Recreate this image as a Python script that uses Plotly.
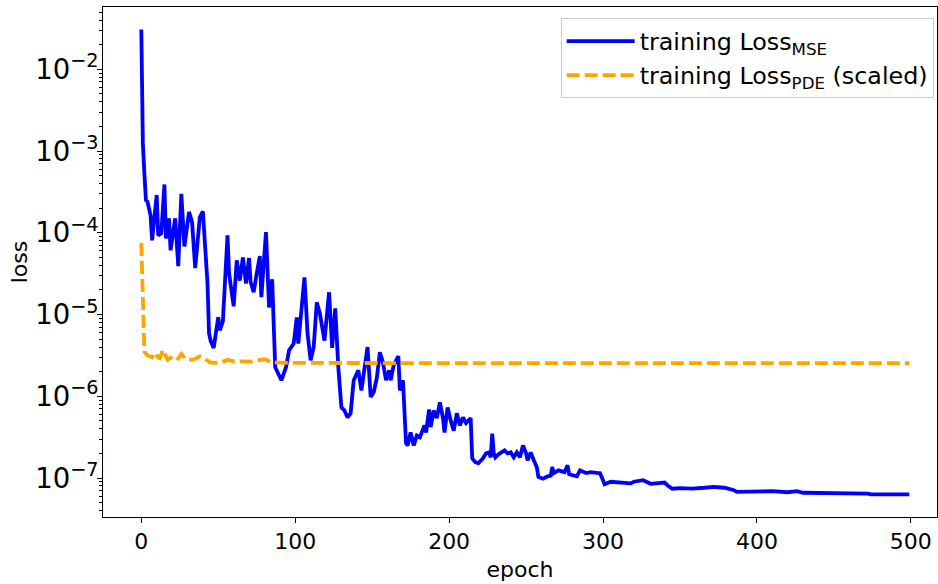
import plotly.graph_objects as go

# ---- data ----
mse_epoch = [0, 1, 2, 3, 4, 6, 7, 10, 11, 13, 15, 16, 18, 19, 22, 24, 26, 28, 31, 33,
             35, 38, 40, 42, 43, 44, 45, 47, 50, 51, 53, 56, 57, 60, 62, 64, 66, 68, 70, 71,
             73, 75, 77, 78, 81, 83, 85, 87, 89, 91, 94, 96, 99, 101, 102, 106, 108, 110, 112, 114,
             116, 119, 122, 124, 126, 128, 130, 132, 134, 136, 138, 141, 143, 145, 147, 149, 151, 153, 155, 157,
             159, 161, 162, 164, 167, 168, 170, 172, 173, 175, 177, 179, 181, 184, 185, 187, 188, 190, 192, 194,
             196, 197, 199, 201, 203, 205, 207, 209, 211, 214, 215, 217, 219, 222, 224, 226, 227, 228, 229, 230,
             232, 236, 238, 240, 242, 244, 246, 248, 250, 251, 253, 255, 257, 258, 261, 264, 266, 267, 268, 271,
             275, 277, 278, 283, 285, 289, 292, 297, 298, 300, 301, 305, 309, 312, 318, 320, 326, 331, 335, 340,
             342, 345, 350, 358, 366, 372, 379, 385, 387, 395, 410, 420, 426, 430, 440, 455, 472, 474, 485, 499]
mse_loss = [3.06e-2, 1.24e-3, 5.3e-4, 2.5e-4, 2.4e-4, 1.64e-4, 8.1e-5, 2.9e-4, 9.3e-5, 9.9e-5,
            3.9e-4, 8.5e-5, 1.5e-4, 6.1e-5, 1.5e-4, 3.9e-5, 3.0e-4, 6.8e-5, 1.8e-4, 1.34e-4,
            3.7e-5, 1.55e-4, 1.83e-4, 5.3e-5, 2.4e-5, 5.9e-6, 4.8e-6, 3.9e-6, 9.3e-6, 6.4e-6,
            8.3e-6, 9.3e-5, 3.2e-5, 1.26e-5, 4.6e-5, 2.6e-5, 5.0e-5, 2.4e-5, 4.9e-5, 2.5e-5,
            1.87e-5, 3.2e-5, 5.2e-5, 1.63e-5, 1.02e-4, 1.22e-5, 2.7e-5, 2.26e-6, 1.91e-6, 1.57e-6,
            2.26e-6, 3.65e-6, 4.4e-6, 9.2e-6, 4.4e-6, 2.85e-5, 5.9e-6, 2.75e-6, 4.0e-6, 1.41e-5,
            1.04e-5, 4.8e-6, 1.87e-5, 3.9e-6, 1.19e-5, 2.26e-6, 7.3e-7, 6.7e-7, 5.5e-7, 6.2e-7,
            1.57e-6, 2.08e-6, 1.18e-6, 2.26e-6, 4.0e-6, 9.8e-7, 1.12e-6, 1.66e-6, 3.45e-6, 2.6e-6,
            1.57e-6, 2.08e-6, 1.57e-6, 2.4e-6, 3.1e-6, 1.18e-6, 1.57e-6, 2.66e-7, 2.5e-7, 3.6e-7,
            2.5e-7, 3.3e-7, 3.15e-7, 4.4e-7, 3.6e-7, 6.9e-7, 4.2e-7, 6.7e-7, 5.4e-7, 8.4e-7,
            5.4e-7, 3.6e-7, 7.3e-7, 5.1e-7, 3.8e-7, 6.2e-7, 4.4e-7, 5.5e-7, 4.7e-7, 5.4e-7,
            1.74e-7, 1.56e-7, 1.51e-7, 1.74e-7, 2.0e-7, 2.06e-7, 1.79e-7, 3.5e-7, 2.0e-7, 1.79e-7,
            1.95e-7, 2.18e-7, 2.0e-7, 2.06e-7, 1.79e-7, 2.06e-7, 1.79e-7, 2.5e-7, 2.0e-7, 1.65e-7,
            2.06e-7, 1.65e-7, 1.35e-7, 1.03e-7, 9.8e-8, 1.05e-7, 1.07e-7, 1.36e-7, 1.15e-7, 1.24e-7,
            1.18e-7, 1.43e-7, 1.11e-7, 1.05e-7, 1.24e-7, 1.15e-7, 1.18e-7, 1.15e-7, 1.15e-7, 9.4e-8,
            8.4e-8, 9.0e-8, 8.9e-8, 8.6e-8, 8.6e-8, 9.0e-8, 9.4e-8, 8.5e-8, 8.7e-8, 8.8e-8,
            8.1e-8, 7.4e-8, 7.5e-8, 7.4e-8, 7.6e-8, 7.8e-8, 7.6e-8, 7.1e-8, 6.75e-8, 6.8e-8,
            6.9e-8, 6.7e-8, 6.9e-8, 6.6e-8, 6.6e-8, 6.5e-8, 6.45e-8, 6.3e-8, 6.35e-8, 6.3e-8]

pde_epoch = [0, 2, 4, 7, 9, 11, 12, 14, 17, 19, 21, 23, 26, 29, 34, 36, 38, 42, 45, 51,
             56, 60, 71, 79, 81, 84, 97, 150, 250, 350, 450, 499]
pde_loss = [7.5e-5, 3.5e-6, 3.17e-6, 3.0e-6, 3.4e-6, 2.97e-6, 2.93e-6, 3.7e-6, 2.8e-6, 2.97e-6,
            2.8e-6, 2.75e-6, 3.3e-6, 2.8e-6, 2.8e-6, 2.95e-6, 3.08e-6, 2.8e-6, 2.58e-6, 2.58e-6,
            2.79e-6, 2.68e-6, 2.65e-6, 2.83e-6, 2.8e-6, 2.6e-6, 2.56e-6, 2.55e-6, 2.55e-6, 2.55e-6,
            2.55e-6, 2.55e-6]

x_ticks = [0, 100, 200, 300, 400, 500]
series_names = ["training Loss<sub>MSE</sub>", "training Loss<sub>PDE</sub> (scaled)"]

FONT = "DejaVu Sans"

fig = go.Figure()
fig.add_trace(go.Scatter(x=mse_epoch, y=mse_loss, mode="lines", name=series_names[0],
                         line=dict(color="#0000ff", width=3.8)))
fig.add_trace(go.Scatter(x=pde_epoch, y=pde_loss, mode="lines", name=series_names[1],
                         line=dict(color="#ffa500", width=3.8, dash="13px,5px")))

axis_common = dict(showline=True, mirror=True, linecolor="black", linewidth=1.1,
                   ticks="outside", ticklen=5, tickwidth=1.1, tickcolor="black",
                   showgrid=False, zeroline=False,
                   tickfont=dict(family=FONT, size=22, color="black"),
                   title_font=dict(family=FONT, size=22, color="black"))

fig.update_xaxes(range=[-24.9, 517.0], tickvals=x_ticks, title_text="epoch",
                 title_standoff=8, **axis_common)
fig.update_yaxes(type="log", range=[-7.477, -1.238], dtick=1, exponentformat="power",
                 title_text="loss", title_standoff=1, ticklabelstandoff=-6,
                 minor=dict(ticks="outside", ticklen=3, tickwidth=0.8, tickcolor="black",
                            showgrid=False),
                 **axis_common)

fig.update_layout(
    width=938, height=584,
    margin=dict(l=103, r=1, t=7, b=67),
    paper_bgcolor="white", plot_bgcolor="white",
    font=dict(family=FONT, size=22, color="black"),
    legend=dict(x=0.996, y=0.978, xanchor="right", yanchor="top",
                bgcolor="rgba(255,255,255,0.8)", bordercolor="#cccccc", borderwidth=1,
                font=dict(family=FONT, size=23.8, color="black"), itemwidth=68,
                tracegroupgap=4),
    showlegend=True,
)

fig.write_html("out.html", config={"displayModeBar": False},
               post_script="document.body.style.margin='0';document.body.style.padding='0';")
